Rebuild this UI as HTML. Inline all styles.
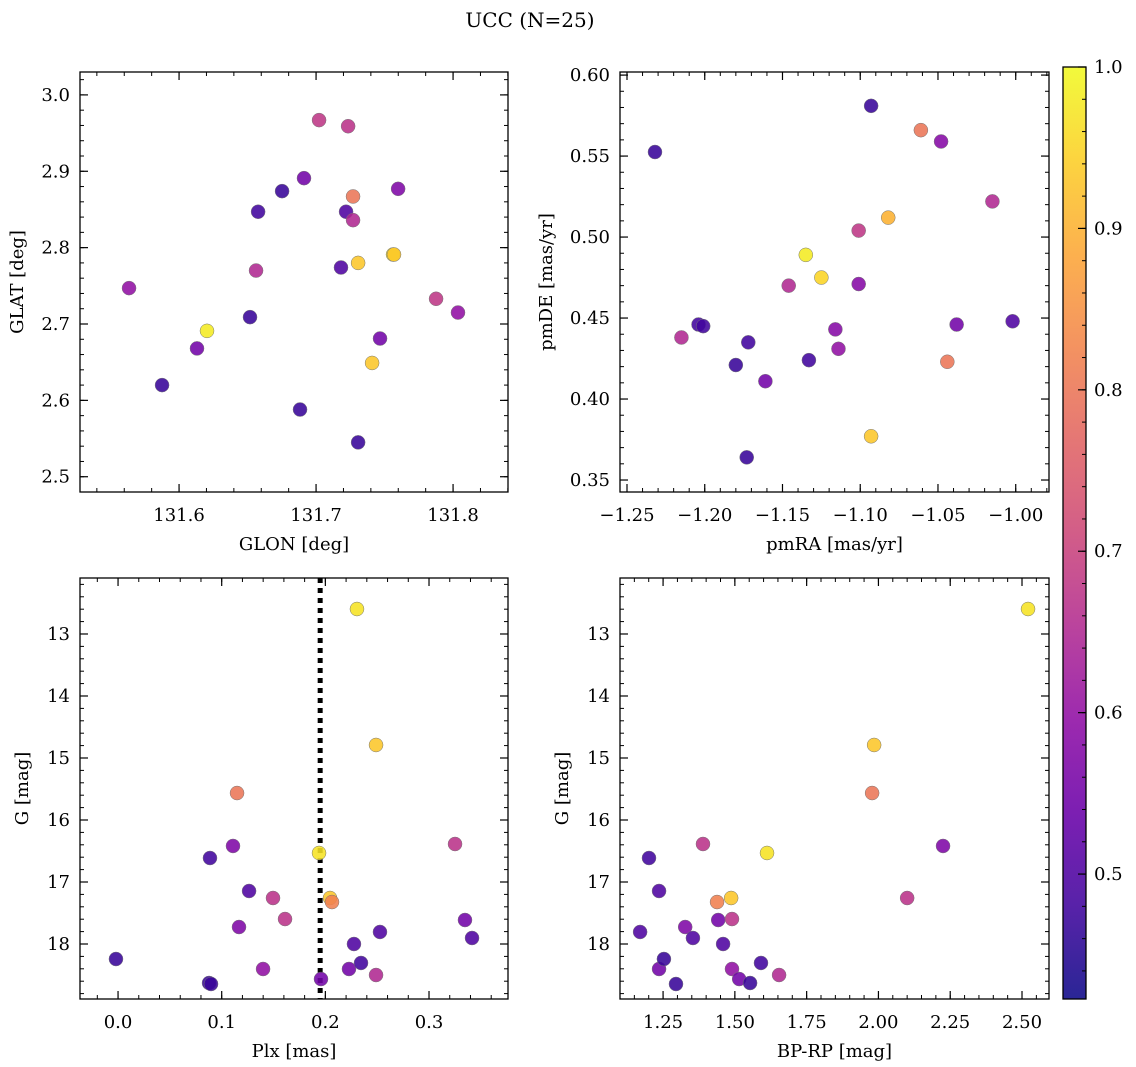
<!DOCTYPE html>
<html><head><meta charset="utf-8"><style>
body{margin:0;background:#fff;}
svg{display:block;font-family:"DejaVu Serif","Liberation Serif",serif;}
</style></head><body>
<svg id="fig" width="1136" height="1067" viewBox="0 0 1136 1067" xmlns="http://www.w3.org/2000/svg">
<text x="530" y="27" font-size="20" text-anchor="middle">UCC (N=25)</text>
</svg>
<script>
// Panel 1: GLON vs GLAT
const glon = [131.5635,131.5876,131.6131,131.6204,131.6518,131.6562,131.6577,131.6752,131.6883,131.6912,131.7022,131.7182,131.7219,131.7234,131.7270,131.7270,131.7307,131.7307,131.7409,131.7467,131.7562,131.7569,131.7599,131.7876,131.8036];
const glat = [2.747,2.620,2.668,2.691,2.709,2.770,2.847,2.874,2.588,2.891,2.967,2.774,2.847,2.959,2.867,2.836,2.545,2.780,2.649,2.681,2.791,2.791,2.877,2.733,2.715];
const prob1 = [0.6,0.47,0.55,0.98,0.47,0.65,0.48,0.47,0.47,0.55,0.68,0.5,0.5,0.67,0.8,0.65,0.47,0.93,0.93,0.55,0.97,0.93,0.57,0.68,0.6];
// Panel 2: pmRA vs pmDE
const pmra = [-1.232,-1.215,-1.204,-1.201,-1.180,-1.173,-1.172,-1.161,-1.146,-1.135,-1.133,-1.125,-1.116,-1.114,-1.101,-1.101,-1.093,-1.093,-1.082,-1.061,-1.048,-1.044,-1.038,-1.015,-1.002];
const pmde = [0.5525,0.438,0.446,0.445,0.421,0.364,0.435,0.411,0.470,0.489,0.424,0.475,0.443,0.431,0.504,0.471,0.581,0.377,0.512,0.566,0.559,0.423,0.446,0.522,0.448];
const prob2 = [0.47,0.65,0.48,0.48,0.47,0.47,0.48,0.55,0.65,0.98,0.48,0.95,0.58,0.6,0.68,0.58,0.47,0.93,0.9,0.8,0.58,0.8,0.55,0.65,0.5];
// Panel 3: Plx vs G
const plx = [-0.002,0.0878,0.0897,0.0887,0.1109,0.1148,0.1167,0.1264,0.1399,0.1495,0.1611,0.1939,0.1958,0.2045,0.2064,0.2228,0.2276,0.2305,0.2344,0.2489,0.2489,0.2527,0.3251,0.3347,0.3415];
const gmag3 = [18.242,18.629,18.645,16.613,16.419,15.565,17.726,17.145,18.403,17.258,17.597,16.532,18.565,17.258,17.323,18.403,18.0,12.597,18.306,14.790,18.5,17.806,16.387,17.613,17.903];
const prob3 = [0.47,0.47,0.47,0.48,0.57,0.8,0.57,0.5,0.6,0.67,0.67,0.97,0.55,0.93,0.82,0.55,0.5,0.97,0.48,0.93,0.65,0.5,0.67,0.55,0.5];
const plxLine = [0.195];
// Panel 4: BP-RP vs G
const bprp = [1.170,1.201,1.236,1.236,1.253,1.295,1.327,1.354,1.389,1.438,1.442,1.459,1.487,1.490,1.490,1.515,1.553,1.591,1.612,1.654,1.978,1.985,2.100,2.225,2.521];
const gmag4 = [17.806,16.613,17.145,18.403,18.242,18.645,17.726,17.903,16.387,17.323,17.613,18.0,17.258,17.597,18.403,18.565,18.629,18.306,16.532,18.5,15.565,14.790,17.258,16.419,12.597];
const prob4 = [0.5,0.48,0.5,0.55,0.47,0.47,0.57,0.5,0.67,0.82,0.55,0.5,0.93,0.67,0.6,0.55,0.47,0.48,0.97,0.65,0.8,0.93,0.67,0.57,0.97];
// Tick labels
const xt1=[131.6,131.7,131.8], yt1=[2.5,2.6,2.7,2.8,2.9,3.0];
const xt2=[-1.25,-1.20,-1.15,-1.10,-1.05,-1.00], yt2=[0.35,0.40,0.45,0.50,0.55,0.60];
const xt3=[0.0,0.1,0.2,0.3], yt3=[13,14,15,16,17,18];
const xt4=[1.25,1.50,1.75,2.00,2.25,2.50], yt4=[13,14,15,16,17,18];
const cbTicks=[0.5,0.6,0.7,0.8,0.9,1.0];
const vmin=0.4226, vmax=1.0;

const NS="http://www.w3.org/2000/svg";
const svg=document.getElementById('fig');
function mk(tag,attrs,parent){const e=document.createElementNS(NS,tag);for(const k in attrs)e.setAttribute(k,attrs[k]);(parent||svg).appendChild(e);return e;}
const plasma=[[13,8,135],[65,4,157],[106,0,168],[143,13,164],[177,42,144],[204,71,120],[225,100,98],[242,132,75],[252,166,54],[252,206,37],[240,249,33]];
function cmap(v){let t=(v-vmin)/(vmax-vmin);t=Math.max(0,Math.min(1,t))*10;const i=Math.min(9,Math.floor(t)),f=t-i;const a=plasma[i],b=plasma[i+1];return 'rgb('+[0,1,2].map(k=>Math.round(a[k]+(b[k]-a[k])*f)).join(',')+')';}

function panel(o){
  const g=mk('g',{});
  
  
  const sx=v=>o.x0+(v-o.xmin)/(o.xmax-o.xmin)*(o.x1-o.x0);
  const sy=o.inv?(v=>o.y0+(v-o.ymin)/(o.ymax-o.ymin)*(o.y1-o.y0)):(v=>o.y1-(v-o.ymin)/(o.ymax-o.ymin)*(o.y1-o.y0));
  const eps=1e-9;
  for(let v=Math.ceil(o.xmin/o.xminor-eps)*o.xminor;v<=o.xmax+eps;v+=o.xminor){const X=sx(v);mk('line',{x1:X,x2:X,y1:o.y1,y2:o.y1-4,stroke:'#000','stroke-width':1},g);mk('line',{x1:X,x2:X,y1:o.y0,y2:o.y0+4,stroke:'#000','stroke-width':1},g);}
  for(let v=Math.ceil(o.ymin/o.yminor-eps)*o.yminor;v<=o.ymax+eps;v+=o.yminor){const Y=sy(v);mk('line',{x1:o.x0,x2:o.x0+4,y1:Y,y2:Y,stroke:'#000','stroke-width':1},g);mk('line',{x1:o.x1,x2:o.x1-4,y1:Y,y2:Y,stroke:'#000','stroke-width':1},g);}
  o.xt.forEach(v=>{const X=sx(v);mk('line',{x1:X,x2:X,y1:o.y1,y2:o.y1-8,stroke:'#000','stroke-width':1.2},g);mk('line',{x1:X,x2:X,y1:o.y0,y2:o.y0+8,stroke:'#000','stroke-width':1.2},g);
    const t=mk('text',{x:X,y:o.y1+29,'font-size':18,'text-anchor':'middle'},g);t.textContent=(v<0?'\u2212':'')+Math.abs(v).toFixed(o.xd);
    
    });
  o.yt.forEach(v=>{const Y=sy(v);mk('line',{x1:o.x0,x2:o.x0+8,y1:Y,y2:Y,stroke:'#000','stroke-width':1.2},g);mk('line',{x1:o.x1,x2:o.x1-8,y1:Y,y2:Y,stroke:'#000','stroke-width':1.2},g);
    const t=mk('text',{x:o.x0-10,y:Y+6,'font-size':18,'text-anchor':'end'},g);t.textContent=v.toFixed(o.yd);
    
    });
  if(o.vline){o.vline.forEach(v=>{const l=mk('line',{x1:sx(v),x2:sx(v),y1:o.y0,y2:o.y1,stroke:'#000','stroke-width':5,'stroke-dasharray':'5,5'},g);
    
    });}
  o.xs.forEach((xv,i)=>{const c=mk('circle',{cx:sx(xv),cy:sy(o.ys[i]),r:7,fill:cmap(o.c[i]),'fill-opacity':0.88,stroke:'#777','stroke-width':0.5},g);
    
    });
  const fr=mk('rect',{x:o.x0,y:o.y0,width:o.x1-o.x0,height:o.y1-o.y0,fill:'none',stroke:'#000','stroke-width':1.3},g);
  
  
  const xl=mk('text',{x:(o.x0+o.x1)/2,y:o.y1+58,'font-size':18,'text-anchor':'middle'},g);xl.textContent=o.xlabel;
  
  
  const cy=(o.y0+o.y1)/2;
  const yl=mk('text',{x:0,y:0,'font-size':18,'text-anchor':'middle',transform:'translate('+o.ylx+','+cy+') rotate(-90)'},g);yl.textContent=o.ylabel;
  
  
}
panel({name:'glon-glat-panel',x0:80,x1:508,y0:72,y1:492,xmin:131.5277,xmax:131.8401,ymin:2.480,ymax:3.030,xt:xt1,yt:yt1,xminor:0.02,yminor:0.02,xd:1,yd:1,xs:glon,ys:glat,c:prob1,xlabel:'GLON [deg]',ylabel:'GLAT [deg]',ylx:23});
panel({name:'pm-panel',x0:620,x1:1049,y0:72,y1:492,xmin:-1.2545,xmax:-0.9786,ymin:0.3426,ymax:0.6019,xt:xt2,yt:yt2,xminor:0.01,yminor:0.01,xd:2,yd:2,xs:pmra,ys:pmde,c:prob2,xlabel:'pmRA [mas/yr]',ylabel:'pmDE [mas/yr]',ylx:552});
panel({name:'plx-g-panel',x0:80,x1:508,y0:578,y1:999,xmin:-0.0367,xmax:0.3762,ymin:12.097,ymax:18.887,inv:true,xt:xt3,yt:yt3,xminor:0.02,yminor:0.2,xd:1,yd:0,xs:plx,ys:gmag3,c:prob3,vline:plxLine,xlabel:'Plx [mas]',ylabel:'G [mag]',ylx:28});
panel({name:'cmd-panel',x0:620,x1:1049,y0:578,y1:999,xmin:1.100,xmax:2.594,ymin:12.097,ymax:18.887,inv:true,xt:xt4,yt:yt4,xminor:0.05,yminor:0.2,xd:2,yd:0,xs:bprp,ys:gmag4,c:prob4,xlabel:'BP-RP [mag]',ylabel:'G [mag]',ylx:568});

// Colorbar
const cb=mk('g',{});


const defs=mk('defs',{},cb);
const lg=mk('linearGradient',{id:'cbg',x1:0,y1:1,x2:0,y2:0},defs);
for(let i=0;i<=20;i++){const v=vmin+(vmax-vmin)*i/20;mk('stop',{offset:(i/20),'stop-color':cmap(v),'stop-opacity':0.88},lg);}
const cbx0=1063,cbx1=1086,cby0=67,cby1=999;
const cs=v=>cby1-(v-vmin)/(vmax-vmin)*(cby1-cby0);
mk('rect',{x:cbx0,y:cby0,width:cbx1-cbx0,height:cby1-cby0,fill:'url(#cbg)'},cb);
for(let v=0.44;v<=1.0001;v+=0.02){const Y=cs(v);mk('line',{x1:cbx1,x2:cbx1-4,y1:Y,y2:Y,stroke:'#000','stroke-width':1},cb);}
cbTicks.forEach(v=>{const Y=cs(v);mk('line',{x1:cbx1,x2:cbx1-8,y1:Y,y2:Y,stroke:'#000','stroke-width':1.2},cb);
  const t=mk('text',{x:cbx1+8,y:Y+6,'font-size':18},cb);t.textContent=v.toFixed(1);
  
  });
mk('rect',{x:cbx0,y:cby0,width:cbx1-cbx0,height:cby1-cby0,fill:'none',stroke:'#000','stroke-width':1.3},cb);
</script>
</body></html>
